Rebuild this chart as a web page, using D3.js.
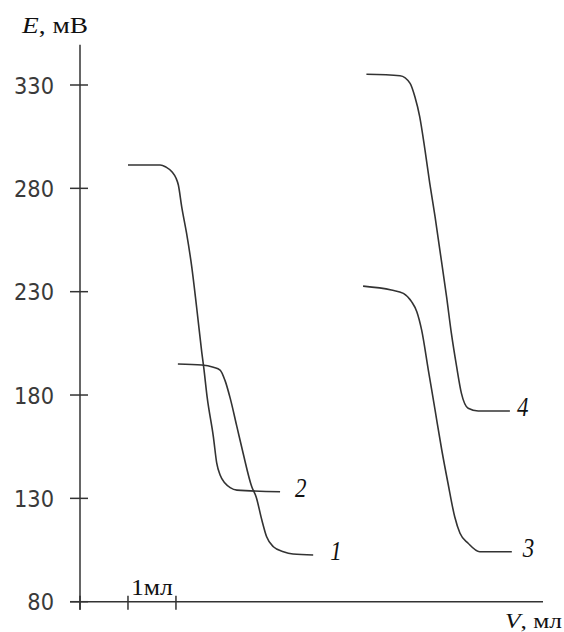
<!DOCTYPE html>
<html>
<head>
<meta charset="utf-8">
<title>E vs V titration curves</title>
<script src="https://cdnjs.cloudflare.com/ajax/libs/d3/7.8.5/d3.min.js"></script>
<style>
  body { margin: 0; background: #fff; }
  svg { display: block; }
  .tick-label { font-family: "DejaVu Sans", Verdana, sans-serif; font-size: 21px; fill: #3a3a3a; }
  .serif { font-family: "Liberation Serif", "Times New Roman", serif; fill: #111; }
</style>
</head>
<body>
<svg width="564" height="632"></svg>
<script>

// Values: [volume, ml ; potential, mV]
var curve1 = [[2.04, 195.0], [2.54, 194.5], [2.78, 193.4], [2.92, 192.1], [3.02, 187.2], [3.13, 178.5],
  [3.27, 164.7], [3.40, 151.8], [3.58, 135.6], [3.67, 130.8], [3.79, 119.5], [3.89, 111.4],
  [4.03, 106.6], [4.24, 104.2], [4.44, 103.1], [4.86, 102.6]];
var curve2 = [[1.00, 291.3], [1.67, 291.3], [1.79, 290.3], [1.92, 287.9], [2.00, 285.0], [2.05, 281.6],
  [2.12, 271.0], [2.22, 258.4], [2.33, 241.9], [2.43, 222.6], [2.54, 200.3], [2.58, 193.1],
  [2.65, 179.0], [2.78, 159.8], [2.85, 147.0], [2.92, 141.3], [3.02, 137.4], [3.13, 135.2],
  [3.27, 134.0], [4.17, 133.2]];
var curve3 = [[5.90, 232.7], [6.49, 230.8], [6.74, 229.2], [6.91, 225.2], [7.02, 220.3], [7.12, 211.5],
  [7.26, 192.1], [7.40, 172.8], [7.54, 153.4], [7.67, 137.3], [7.81, 121.1], [7.92, 113.1],
  [8.09, 108.3], [8.33, 104.2], [9.00, 104.2]];
var curve4 = [[5.97, 335.2], [6.67, 334.5], [6.88, 330.8], [6.98, 324.3], [7.08, 314.7], [7.19, 298.6],
  [7.29, 282.4], [7.40, 266.3], [7.50, 250.2], [7.64, 227.6], [7.74, 209.9], [7.85, 193.7],
  [7.95, 180.8], [8.09, 173.6], [8.30, 172.3], [8.96, 172.3]];

var curveNames = ["1", "2", "3", "4"];
var yTicks = [80, 130, 180, 230, 280, 330];
var xTicks = [0, 1, 2];          // the "1 ml" scale bar
var yLabel = ["E", ", мВ"];
var xLabel = ["V", ", мл"];
var scaleBarLabel = "1мл";

var svg = d3.select("svg");

var x = d3.scaleLinear().domain([0, 9.65]).range([80, 543]);
var y = d3.scaleLinear().domain([80, 330]).range([601.7, 85]);

var ink = "#333";

// axes
svg.append("line")
  .attr("x1", x(0)).attr("x2", x(0))
  .attr("y1", y(349.5)).attr("y2", y(80) + 8)
  .attr("stroke", ink).attr("stroke-width", 1.5);
svg.append("line")
  .attr("x1", x(0) - 10).attr("x2", x.range()[1])
  .attr("y1", y(80)).attr("y2", y(80))
  .attr("stroke", ink).attr("stroke-width", 1.5);

// y ticks cross the axis
var yt = svg.append("g");
yt.selectAll("line").data(yTicks).enter().append("line")
  .attr("x1", x(0) - 10).attr("x2", x(0) + 8)
  .attr("y1", function(d) { return y(d); }).attr("y2", function(d) { return y(d); })
  .attr("stroke", ink).attr("stroke-width", 1.5);
yt.selectAll("text").data(yTicks).enter().append("text")
  .attr("class", "tick-label")
  .attr("text-anchor", "end")
  .attr("transform", function(d) { return "translate(54," + (y(d) + 8.5) + ") scale(1,1.12)"; })
  .text(function(d) { return d; });

// x scale bar ticks
svg.append("g").selectAll("line").data(xTicks).enter().append("line")
  .attr("x1", function(d) { return x(d); }).attr("x2", function(d) { return x(d); })
  .attr("y1", y(80) - 6).attr("y2", y(80) + 8)
  .attr("stroke", ink).attr("stroke-width", 1.5);
svg.append("text")
  .attr("class", "serif")
  .attr("text-anchor", "middle")
  .attr("transform", "translate(" + ((x(1) + x(2)) / 2) + ",595) scale(1,1.05)")
  .style("font-size", "21px")
  .attr("textLength", 42).attr("lengthAdjust", "spacingAndGlyphs")
  .text(scaleBarLabel);

// axis titles
var yt1 = svg.append("text").attr("class", "serif")
  .attr("transform", "translate(22,33)")
  .style("font-size", "23px")
  .attr("textLength", 66).attr("lengthAdjust", "spacingAndGlyphs");
yt1.append("tspan").style("font-style", "italic").text(yLabel[0]);
yt1.append("tspan").text(yLabel[1]);

var xt1 = svg.append("text").attr("class", "serif")
  .attr("transform", "translate(505,628)")
  .style("font-size", "21px")
  .attr("textLength", 57).attr("lengthAdjust", "spacingAndGlyphs");
xt1.append("tspan").style("font-style", "italic").text(xLabel[0]);
xt1.append("tspan").text(xLabel[1]);

// curves
var line = d3.line()
  .x(function(d) { return x(d[0]); })
  .y(function(d) { return y(d[1]); })
  .curve(d3.curveMonotoneX);

var curves = [curve1, curve2, curve3, curve4];
var labelDx = [17, 15, 11, 7];   // gap between curve end and its number

curves.forEach(function(c, i) {
  svg.append("path")
    .datum(c)
    .attr("d", line)
    .attr("fill", "none")
    .attr("stroke", ink)
    .attr("stroke-width", 1.6);

  var last = c[c.length - 1];
  svg.append("text")
    .attr("class", "serif")
    .attr("transform", "translate(" + (x(last[0]) + labelDx[i]) + "," + (y(last[1]) + 5.5) + ") scale(1,1.2)")
    .style("font-size", "23px")
    .style("font-style", "italic")
    .text(curveNames[i]);
});

</script>
</body>
</html>
